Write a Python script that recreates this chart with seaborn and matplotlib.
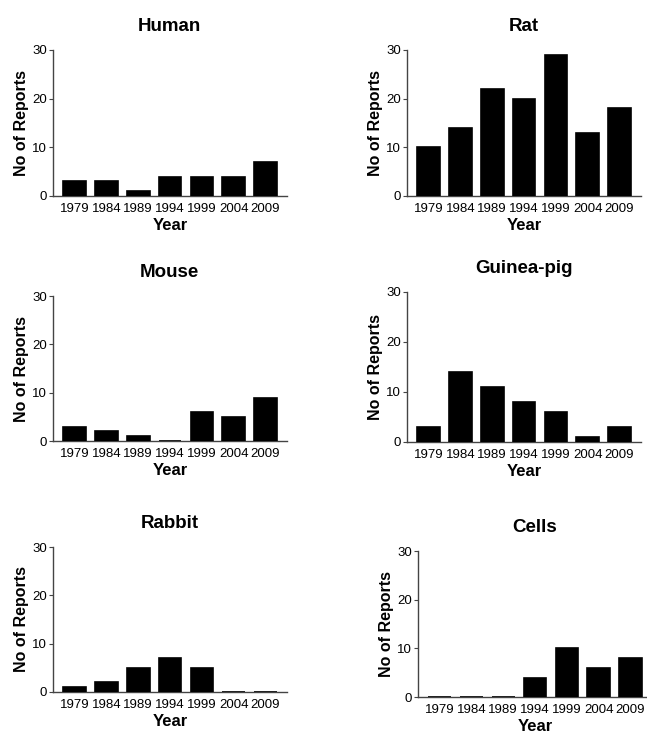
import matplotlib
matplotlib.use("Agg")
import matplotlib.pyplot as plt
import seaborn as sns
import pandas as pd

years = ["1979", "1984", "1989", "1994", "1999", "2004", "2009"]
human = [3, 3, 1, 4, 4, 4, 7]
rat = [10, 14, 22, 20, 29, 13, 18]
mouse = [3, 2, 1, 0, 6, 5, 9]
guinea_pig = [3, 14, 11, 8, 6, 1, 3]
rabbit = [1, 2, 5, 7, 5, 0, 0]
cells = [0, 0, 0, 4, 10, 6, 8]

titles = ["Human", "Rat", "Mouse", "Guinea-pig", "Rabbit", "Cells"]
series = [human, rat, mouse, guinea_pig, rabbit, cells]

sns.set_style("ticks")
plt.rcParams["font.family"] = ["Liberation Sans", "DejaVu Sans"]
plt.rcParams["text.color"] = "black"
plt.rcParams["axes.labelcolor"] = "black"

W, H = 647, 734
fig = plt.figure(figsize=(W / 100, H / 100), dpi=100)

# pixel layout: (left, top, bottom)
boxes = [(53, 50, 196), (407, 50, 196),
         (53, 296, 441), (407, 292, 442),
         (53, 547, 692), (418, 551, 697)]
x_lo, x_hi = -0.68, 6.67
unit_px = 31.8
width_px = (x_hi - x_lo) * unit_px

for title, vals, (l, t, b) in zip(titles, series, boxes):
    ax = fig.add_axes([l / W, 1 - b / H, width_px / W, (b - t) / H])
    df = pd.DataFrame({"Year": years, "Reports": vals})
    sns.barplot(data=df, x="Year", y="Reports", color="black", width=0.71,
                edgecolor="black", linewidth=1.2, saturation=1, ax=ax)
    ax.set_xlim(x_lo, x_hi)
    ax.set_ylim(0, 30)
    ax.set_yticks([0, 10, 20, 30])
    ax.set_title(title, fontsize=13.5, fontweight="bold", pad=14, color="black")
    ax.set_xlabel("Year", fontsize=12, fontweight="bold", labelpad=2)
    ax.set_ylabel("No of Reports", fontsize=11.5, fontweight="bold", labelpad=2)
    ax.tick_params(axis="x", length=0, labelsize=9.5, pad=5, labelcolor="black")
    ax.tick_params(axis="y", length=3, width=0.8, labelsize=9.5, pad=1.5,
                   labelcolor="black", color="#444")
    for s in ["top", "right"]:
        ax.spines[s].set_visible(False)
    for s in ["left", "bottom"]:
        ax.spines[s].set_color("#444")
        ax.spines[s].set_linewidth(1.0)
        ax.spines[s].set_zorder(0.5)

fig.savefig("out.png", dpi=100)
